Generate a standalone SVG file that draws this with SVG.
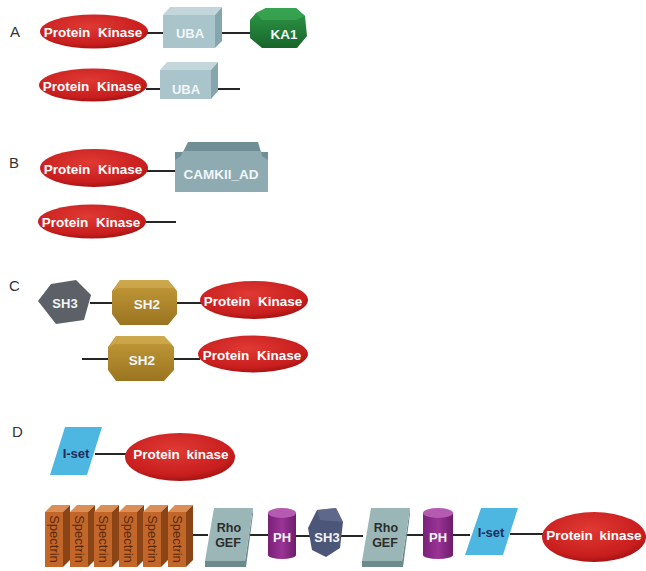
<svg xmlns="http://www.w3.org/2000/svg" width="646" height="571" viewBox="0 0 646 571">
<defs>
<radialGradient id="gRed" cx="0.45" cy="0.35" r="0.7">
<stop offset="0" stop-color="#e03a34"/><stop offset="0.75" stop-color="#c81e1e"/><stop offset="1" stop-color="#9a1010"/>
</radialGradient>
<linearGradient id="gGreen" x1="0" y1="0" x2="0" y2="1">
<stop offset="0" stop-color="#2f9a48"/><stop offset="1" stop-color="#17652a"/>
</linearGradient>
<linearGradient id="gGold" x1="0" y1="0" x2="0" y2="1">
<stop offset="0" stop-color="#c49b3a"/><stop offset="1" stop-color="#9a7420"/>
</linearGradient>
<linearGradient id="gPurple" x1="0" y1="0" x2="1" y2="0">
<stop offset="0" stop-color="#7a2078"/><stop offset="0.5" stop-color="#9a3496"/><stop offset="1" stop-color="#6e1c6c"/>
</linearGradient>
</defs>
<style>
.lbl{font-family:"Liberation Sans",Arial,sans-serif;font-size:15px;fill:#333}
.t{font-family:"Liberation Sans",Arial,sans-serif;font-weight:bold;text-anchor:middle;dominant-baseline:central}
.pk{font-size:13.5px;fill:#fff;word-spacing:4px}
.w{fill:#f2f6f8}
.dk{fill:#2c2c2c}
.nv{fill:#1d2d5c}
.sp{font-family:"Liberation Sans",Arial,sans-serif;font-size:13px;fill:#5a2a0c;text-anchor:middle;dominant-baseline:central}
.kin{fill:url(#gRed)}
.uf{fill:#a9c4cb}.ut{fill:#c3d6db}.us{fill:#86a6ae}
.cam{fill:#8eabb1}.camt{fill:#6f8e95}
.sh3c{fill:#5c6168}
.gold{fill:url(#gGold)}.goldt{fill:#d2ad52}
.iset{fill:#4db7e2}
.rho{fill:#9bb6b7}.rhod{fill:#6d8b8c}
.ph{fill:url(#gPurple)}.pht{fill:#b45ab0}
.sh3d{fill:#4c5679}.sh3dt{fill:#6a7498}
.spf{fill:#c3662a}.sps{fill:#8a4416}.spt{fill:#db8e55}
.ln{stroke:#262626;stroke-width:2;fill:none}
</style>

<g id="labels">
<text class="lbl" x="10" y="37">A</text>
<text class="lbl" x="9" y="168">B</text>
<text class="lbl" x="9" y="291">C</text>
<text class="lbl" x="12" y="437">D</text>
</g>

<g id="connectors">
<line class="ln" x1="147" y1="33" x2="165" y2="33"/>
<line class="ln" x1="221" y1="33" x2="252" y2="33"/>
<line class="ln" x1="146" y1="89" x2="162" y2="89"/>
<line class="ln" x1="218" y1="89" x2="240" y2="89"/>
<line class="ln" x1="147" y1="171" x2="176" y2="171"/>
<line class="ln" x1="146" y1="222" x2="176" y2="222"/>
<line class="ln" x1="90" y1="303" x2="114" y2="303"/>
<line class="ln" x1="176" y1="303" x2="202" y2="303"/>
<line class="ln" x1="82" y1="359" x2="110" y2="359"/>
<line class="ln" x1="174" y1="359" x2="200" y2="359"/>
<line class="ln" x1="95" y1="454" x2="127" y2="454"/>
<line class="ln" x1="190" y1="535" x2="208" y2="535"/>
<line class="ln" x1="249" y1="535" x2="270" y2="535"/>
<line class="ln" x1="295" y1="536" x2="310" y2="536"/>
<line class="ln" x1="341" y1="536" x2="363" y2="536"/>
<line class="ln" x1="404" y1="535" x2="424" y2="535"/>
<line class="ln" x1="452" y1="535" x2="470" y2="535"/>
<line class="ln" x1="510" y1="534" x2="545" y2="534"/>
</g>

<g id="A1-kinase"><ellipse class="kin" cx="94" cy="31.5" rx="54" ry="17"/><text class="t pk" x="93" y="32">Protein Kinase</text></g>
<g id="A1-uba">
<polygon class="ut" points="163,15 170,7 222,7 215,15"/>
<polygon class="us" points="215,15 222,7 222,41 215,48"/>
<rect class="uf" x="163" y="15" width="52" height="33"/>
<text class="t w" x="190" y="33" font-size="13">UBA</text></g>
<g id="A1-ka1">
<polygon fill="url(#gGreen)" points="256,13 266,8 296,8 305,16 307,36 297,48 262,48 250,38 250,20"/>
<polygon fill="#3aa552" points="256,13 266,8 296,8 305,16 296,20 262,20" opacity="0.8"/>
<text class="t w" x="284" y="34" font-size="13.5">KA1</text></g>

<g id="A2-kinase"><ellipse class="kin" cx="93" cy="85" rx="54" ry="16.5"/><text class="t pk" x="92" y="86">Protein Kinase</text></g>
<g id="A2-uba">
<polygon class="ut" points="160,70 167,62 218,62 211,70"/>
<polygon class="us" points="211,70 218,62 218,91 211,99"/>
<rect class="uf" x="160" y="70" width="51" height="29"/>
<text class="t w" x="186" y="89" font-size="13">UBA</text></g>

<g id="B1-kinase"><ellipse class="kin" cx="94" cy="168" rx="54" ry="19"/><text class="t pk" x="93" y="169">Protein Kinase</text></g>
<g id="B1-camkii">
<polygon class="camt" points="188,142 258,142 261,152 268,152 268,160 175,160 175,152 183,152"/>
<polygon class="cam" points="183,151 261,151 262,156 268,160 268,192 175,192 175,160 181,156"/>
<text class="t w" x="221" y="174" font-size="13.5">CAMKII_AD</text></g>

<g id="B2-kinase"><ellipse class="kin" cx="92" cy="221.5" rx="54" ry="17"/><text class="t pk" x="91" y="222">Protein Kinase</text></g>

<g id="C1-sh3"><polygon class="sh3c" points="38,301 51,284 76,280 91,295 84,320 56,324"/><text class="t w" x="65" y="303" font-size="13">SH3</text></g>
<g id="C1-sh2">
<polygon class="gold" points="120,280 168,280 177,291 177,314 168,325 120,325 112,314 112,291"/>
<polygon class="goldt" points="120,280 168,280 175,288 118,288 113,291" opacity="0.7"/>
<text class="t w" x="147" y="304" font-size="13.5">SH2</text></g>
<g id="C1-kinase"><ellipse class="kin" cx="254" cy="300" rx="54" ry="19"/><text class="t pk" x="253" y="301">Protein Kinase</text></g>

<g id="C2-sh2">
<polygon class="gold" points="116,336 164,336 174,347 174,370 164,381 116,381 108,370 108,347"/>
<polygon class="goldt" points="116,336 164,336 172,344 114,344 109,347" opacity="0.7"/>
<text class="t w" x="142" y="360" font-size="13.5">SH2</text></g>
<g id="C2-kinase"><ellipse class="kin" cx="253" cy="354" rx="55" ry="18.5"/><text class="t pk" x="252" y="355">Protein Kinase</text></g>

<g id="D1-iset"><polygon class="iset" points="65,427 102,427 87,475 50,475"/><text class="t nv" x="76" y="453" font-size="13">I-set</text></g>
<g id="D1-kinase"><ellipse class="kin" cx="180" cy="457" rx="55" ry="24"/><text class="t pk" x="181" y="454" style="word-spacing:3px">Protein kinase</text></g>

<g id="D2-spectrin1"><polygon class="spt" points="45,512 52,505 70,505 63,512"/><polygon class="sps" points="63,512 70,505 70,560 63,567"/><rect class="spf" x="45" y="512" width="18" height="55"/><text class="sp" transform="translate(54,539) rotate(90)">Spectrin</text></g>
<g id="D2-spectrin2"><polygon class="spt" points="70,512 77,505 95,505 88,512"/><polygon class="sps" points="88,512 95,505 95,560 88,567"/><rect class="spf" x="70" y="512" width="18" height="55"/><text class="sp" transform="translate(79,539) rotate(90)">Spectrin</text></g>
<g id="D2-spectrin3"><polygon class="spt" points="94,512 101,505 119,505 112,512"/><polygon class="sps" points="112,512 119,505 119,560 112,567"/><rect class="spf" x="94" y="512" width="18" height="55"/><text class="sp" transform="translate(103,539) rotate(90)">Spectrin</text></g>
<g id="D2-spectrin4"><polygon class="spt" points="119,512 126,505 144,505 137,512"/><polygon class="sps" points="137,512 144,505 144,560 137,567"/><rect class="spf" x="119" y="512" width="18" height="55"/><text class="sp" transform="translate(128,539) rotate(90)">Spectrin</text></g>
<g id="D2-spectrin5"><polygon class="spt" points="143,512 150,505 168,505 161,512"/><polygon class="sps" points="161,512 168,505 168,560 161,567"/><rect class="spf" x="143" y="512" width="18" height="55"/><text class="sp" transform="translate(152,539) rotate(90)">Spectrin</text></g>
<g id="D2-spectrin6"><polygon class="spt" points="168,512 175,505 193,505 186,512"/><polygon class="sps" points="186,512 193,505 193,560 186,567"/><rect class="spf" x="168" y="512" width="18" height="55"/><text class="sp" transform="translate(177,539) rotate(90)">Spectrin</text></g>

<g id="D2-rhogef1">
<polygon class="rhod" points="205,561 245,561 253,508 253,514 246,567 205,567"/>
<polygon class="rho" points="214,508 253,508 245,561 205,561"/>
<text class="t dk" x="229" y="528" font-size="12.5">Rho</text><text class="t dk" x="228" y="543" font-size="12.5">GEF</text></g>
<g id="D2-ph1">
<rect class="ph" x="268" y="513" width="28" height="42"/><ellipse class="ph" cx="282" cy="555" rx="14" ry="4"/>
<ellipse class="pht" cx="282" cy="513" rx="14" ry="5"/>
<text class="t w" x="282" y="537" font-size="13">PH</text></g>
<g id="D2-sh3">
<polygon class="sh3d" points="308,528 317,510 336,508 343,522 340,548 326,557 312,550"/>
<polygon class="sh3dt" points="317,510 336,508 343,522 320,520" opacity="0.6"/>
<text class="t w" x="327" y="537" font-size="13">SH3</text></g>
<g id="D2-rhogef2">
<polygon class="rhod" points="362,561 402,561 410,508 410,514 403,567 362,567"/>
<polygon class="rho" points="371,508 410,508 402,561 362,561"/>
<text class="t dk" x="386" y="528" font-size="12.5">Rho</text><text class="t dk" x="385" y="543" font-size="12.5">GEF</text></g>
<g id="D2-ph2">
<rect class="ph" x="423" y="513" width="30" height="42"/><ellipse class="ph" cx="438" cy="555" rx="15" ry="4"/>
<ellipse class="pht" cx="438" cy="513" rx="15" ry="5"/>
<text class="t w" x="438" y="537" font-size="13">PH</text></g>
<g id="D2-iset"><polygon class="iset" points="481,508 518,508 503,555 465,555"/><text class="t nv" x="491" y="532" font-size="13">I-set</text></g>
<g id="D2-kinase"><ellipse class="kin" cx="594" cy="537" rx="52" ry="25"/><text class="t pk" x="594" y="535" style="word-spacing:3px">Protein kinase</text></g>
</svg>
